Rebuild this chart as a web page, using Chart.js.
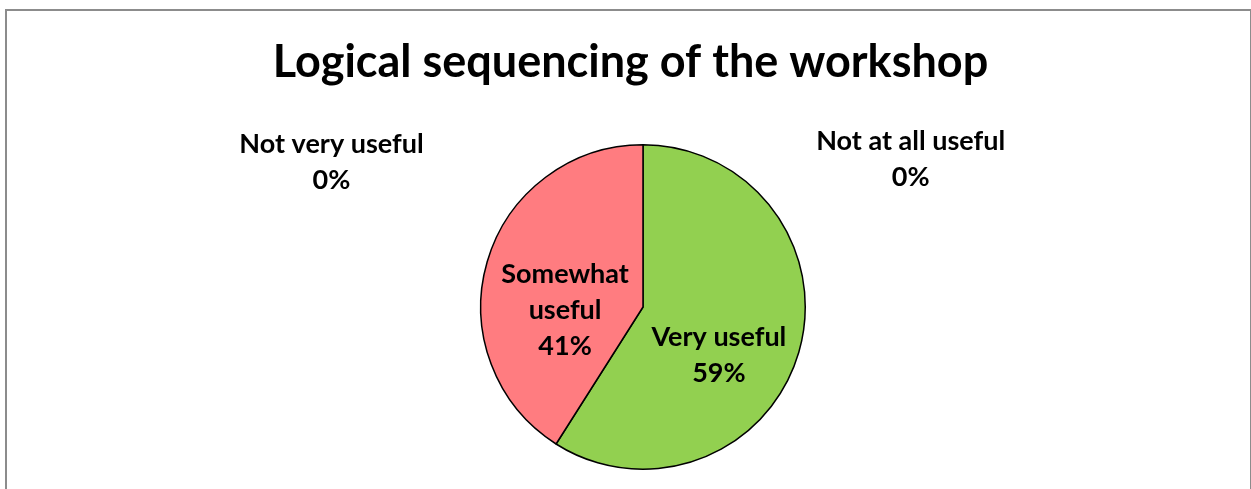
<!DOCTYPE html>
<html>
<head>
<meta charset="utf-8">
<script src="https://cdn.jsdelivr.net/npm/chart.js@4"></script>
<style>
    html, body { margin: 0; padding: 0; background: #fff; }
    #frame {
        position: absolute; left: 5px; top: 9px; width: 1243px; height: 500px;
        border: 2px solid #8c8c8c; border-bottom: none; background: #fff;
    }
    #chartBox { position: absolute; left: 0; top: 0; width: 1243px; height: 480px; }
</style>
</head>
<body>
<div id="frame">
    <div id="chartBox"><canvas id="pieChart"></canvas></div>
</div>
<script>
var chartTitle = 'Logical sequencing of the workshop';
var categories = ['Very useful', 'Somewhat useful', 'Not very useful', 'Not at all useful'];
var percentages = [59, 41, 0, 0];
var sliceColors = ['#92D050', '#FF7C80', '#4F81BD', '#8064A2'];

var labelFont = 'bold 27px Lato, "Open Sans", sans-serif';

// draws the title and the excel-like data labels
var excelLabels = {
    id: 'excelLabels',
    afterDatasetsDraw: function (chart) {
        var ctx = chart.ctx;
        var meta = chart.getDatasetMeta(0);
        ctx.save();
        ctx.fillStyle = '#000';
        ctx.textAlign = 'center';
        ctx.textBaseline = 'middle';

        ctx.font = 'bold 45px Lato, "Open Sans", sans-serif';
        ctx.fillText(chartTitle, chart.width / 2 + 2, 51);

        ctx.font = labelFont;
        meta.data.forEach(function (arc, i) {
            var text = percentages[i] + '%';
            var lines;
            var x, y;
            if (percentages[i] > 0) {
                var pos = arc.tooltipPosition();
                x = pos.x - (i === 0 ? 2 : 0);
                y = pos.y + 26;
                lines = categories[i] === 'Somewhat useful' ? ['Somewhat', 'useful', text] : [categories[i], text];
            } else {
                var r = arc.outerRadius;
                x = arc.x + (i === 2 ? -1.92 : 1.65) * r;
                y = arc.y - r + (i === 2 ? 18 : 15);
                lines = [categories[i], text];
            }
            var lh = 36;
            var top = y - (lines.length - 1) * lh / 2;
            lines.forEach(function (l, k) { ctx.fillText(l, x, top + k * lh); });
        });
        ctx.restore();
    }
};

var ctx = document.getElementById('pieChart').getContext('2d');
new Chart(ctx, {
    type: 'pie',
    data: {
        labels: categories,
        datasets: [{
            data: percentages,
            backgroundColor: sliceColors,
            borderColor: '#000',
            borderWidth: 1.5
        }]
    },
    plugins: [excelLabels],
    options: {
        responsive: true,
        maintainAspectRatio: false,
        animation: false,
        layout: { padding: { top: 133, bottom: 21, left: 473, right: 444 } },
        plugins: {
            legend: { display: false },
            title: { display: false },
            tooltip: { enabled: false }
        }
    }
});
</script>
</body>
</html>
